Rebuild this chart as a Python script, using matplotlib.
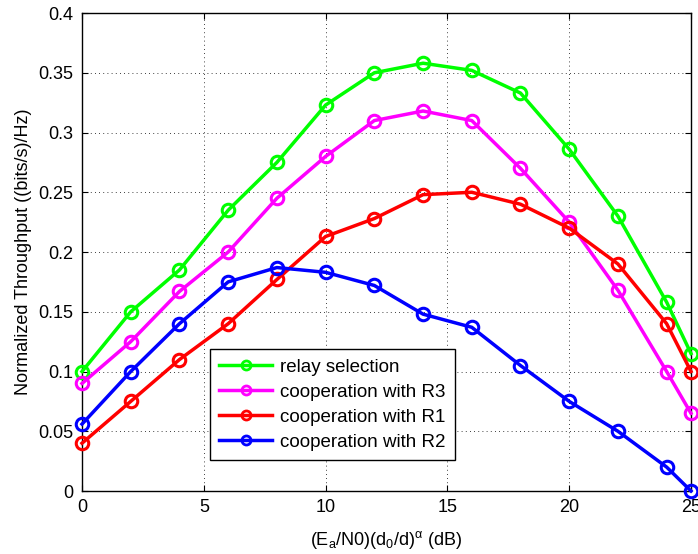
import numpy as np
from matplotlib import pyplot as plt

x = [0, 2, 4, 6, 8, 10, 12, 14, 16, 18, 20, 22, 24, 25]
relay_sel = [0.100, 0.150, 0.185, 0.235, 0.275, 0.323, 0.350, 0.358, 0.352, 0.333, 0.286, 0.230, 0.158, 0.115]
coop_r3 = [0.090, 0.125, 0.167, 0.200, 0.245, 0.280, 0.310, 0.318, 0.310, 0.270, 0.225, 0.168, 0.100, 0.065]
coop_r1 = [0.040, 0.075, 0.110, 0.140, 0.177, 0.213, 0.228, 0.248, 0.250, 0.240, 0.220, 0.190, 0.140, 0.100]
coop_r2 = [0.056, 0.100, 0.140, 0.175, 0.187, 0.183, 0.172, 0.148, 0.137, 0.105, 0.075, 0.050, 0.020, 0.000]

labels = ['relay selection', 'cooperation with R3', 'cooperation with R1', 'cooperation with R2']
colors = ['#00ff00', '#ff00ff', '#ff0000', '#0000ff']


def main():
    plt.rcParams['font.family'] = ['Liberation Sans', 'DejaVu Sans']
    plt.rcParams['font.size'] = 13

    fig = plt.figure(figsize=(6.98, 5.54), dpi=100)
    ax = fig.add_axes([0.1175, 0.1137, 0.8725, 0.8628])

    for ys, lab, c in zip([relay_sel, coop_r3, coop_r1, coop_r2], labels, colors):
        ax.plot(x, ys, color=c, lw=2.5, marker='o', ms=9, mfc='none', mew=2.2,
                label=lab, clip_on=False, zorder=3)

    ax.set_xlim(0, 25)
    ax.set_ylim(0, 0.4)
    ax.set_xticks([0, 5, 10, 15, 20, 25])
    ax.set_yticks(np.arange(0, 0.41, 0.05))
    ax.set_yticklabels(['0', '0.05', '0.1', '0.15', '0.2', '0.25', '0.3', '0.35', '0.4'])
    ax.grid(True, color='black', linestyle=(0, (1, 4)), linewidth=0.6)
    ax.tick_params(direction='in', top=True, right=True, length=4)
    ax.tick_params(axis='x', pad=6)
    ax.tick_params(axis='y', pad=6)
    for s in ax.spines.values():
        s.set_linewidth(1.0)

    ax.set_xlabel(r'(E$_\mathregular{a}$/N0)(d$_\mathregular{0}$/d)$^\mathregular{\alpha}$ (dB)', labelpad=9)
    ax.set_ylabel('Normalized Throughput ((bits/s)/Hz)', labelpad=5)

    leg = ax.legend(loc='lower left', bbox_to_anchor=(0.21, 0.065), borderaxespad=0,
                    fancybox=False, edgecolor='black', framealpha=1, borderpad=0.5,
                    handlelength=2.8, handletextpad=0.45, labelspacing=0.42, fontsize=13.5)
    leg.get_frame().set_linewidth(1.0)
    for h in leg.legend_handles:
        h.set_markersize(6.5)
        h.set_markeredgewidth(2)
    leg.set_zorder(5)

    fig.savefig('out.png', dpi=100)


if __name__ == '__main__':
    main()
